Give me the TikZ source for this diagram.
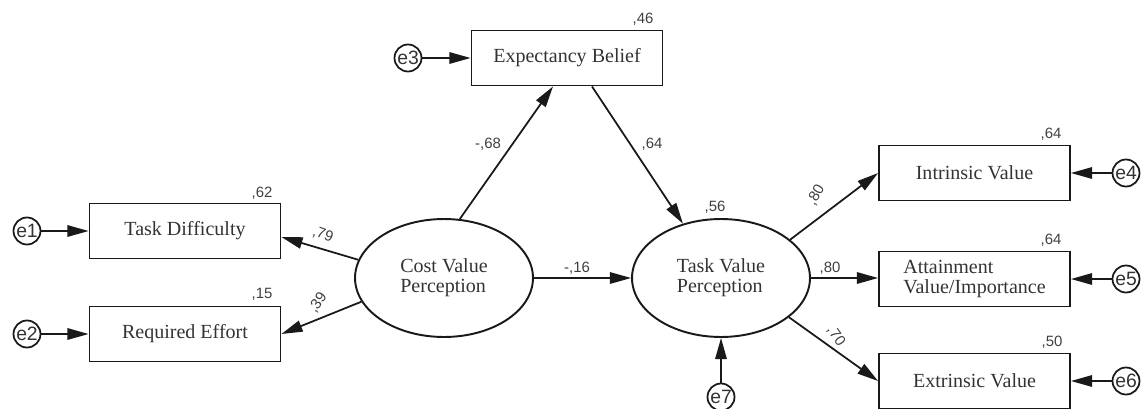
\documentclass[tikz,border=0pt]{standalone}
\usepackage{fontspec}
\setmainfont{Liberation Serif}
\setsansfont{Liberation Sans}
\usetikzlibrary{calc,arrows.meta,shapes.geometric}

\begin{document}
\begin{tikzpicture}[
  obs/.style={draw=black!90,line width=1.1pt,minimum width=3.82cm,minimum height=1.1cm,
    inner sep=2pt,text=black!80,font=\fontsize{11.4}{11.5}\selectfont},
  lat/.style={draw=black!90,ellipse,line width=1.1pt,minimum width=3.56cm,minimum height=2.36cm,
    inner sep=0pt,align=left,text=black!80,font=\fontsize{11.4}{11.5}\selectfont},
  err/.style={draw=black!90,circle,line width=1pt,minimum size=0.54cm,inner sep=0pt,
    text=black!80,font=\sffamily\fontsize{11}{11}\selectfont},
  est/.style={inner sep=0pt,text=black!75,font=\sffamily\fontsize{8.5}{8.5}\selectfont},
  arr/.style={draw=black!90,line width=1pt,-{Triangle[length=12pt,width=6.5pt]}}
]
  \begin{scope}[x=0.02cm,y=-0.02cm]
  \useasboundingbox (0,0) rectangle (1143,409);
  \node[obs] (td) at (185,231) {Task Difficulty};
  \node[obs] (re) at (185,334) {Required Effort};
  \node[obs] (eb) at (567,58) {Expectancy Belief};
  \node[lat] (cvp) at (444,278) {Cost Value\\Perception};
  \node[lat] (tvp) at (721,278) {Task Value\\Perception};
  \node[obs] (iv) at (974.5,173) {Intrinsic Value};
  \node[obs,align=left] (av) at (974.5,279) {Attainment\\Value/Importance};
  \node[obs] (ev) at (974.5,381) {Extrinsic Value};
  \node[err] (e1) at (27,231) {e1};
  \node[err] (e2) at (27,334) {e2};
  \node[err] (e3) at (408,58) {e3};
  \node[err] (e4) at (1126,173) {e4};
  \node[err] (e5) at (1126,279) {e5};
  \node[err] (e6) at (1126,381) {e6};
  \node[err] (e7) at (721,397) {e7};
  \draw[arr] (e1) -- (td);
  \draw[arr] (e2) -- (re);
  \draw[arr] (e3) -- (eb);
  \draw[arr] (e4) -- (iv);
  \draw[arr] (e5) -- (av);
  \draw[arr] (e6) -- (ev);
  \draw[arr] (e7) -- (tvp);
  \draw[arr] (cvp.168) -- ($(td.east)+(0,6)$);
  \draw[arr] (cvp.196) -- (re.east);
  \draw[arr] (cvp.75) -- ($(eb.south)+(-14,0)$);
  \draw[arr] ($(eb.south)+(25,0)$) -- (tvp.125);
  \draw[arr] (cvp) -- (tvp);
  \draw[arr] (tvp.29) -- (iv.west);
  \draw[arr] (tvp) -- (tvp -| av.west);
  \draw[arr] (tvp.-30) -- (ev.west);
  \node[est] (r2td) at (262,193) {,62};
  \node[est] (r2re) at (262,294) {,15};
  \node[est] (r2eb) at (643,19) {,46};
  \node[est] (r2tvp) at (715,207) {,56};
  \node[est] (r2iv) at (1051,134) {,64};
  \node[est] (r2av) at (1051,240) {,64};
  \node[est] (r2ev) at (1052,342) {,50};
  \node[est,rotate=-20] (wtd) at (323,235) {,79};
  \node[est,rotate=55] (wre) at (318,303) {,39};
  \node[est] (web) at (488,144) {-,68};
  \node[est] (wtv1) at (652,144) {,64};
  \node[est] (wtv2) at (577,268) {-,16};
  \node[est,rotate=60] (wiv) at (816,195) {,80};
  \node[est] (wav) at (830,268) {,80};
  \node[est,rotate=-55] (wev) at (836,336) {,70};
  \end{scope}
\end{tikzpicture}
\end{document}
